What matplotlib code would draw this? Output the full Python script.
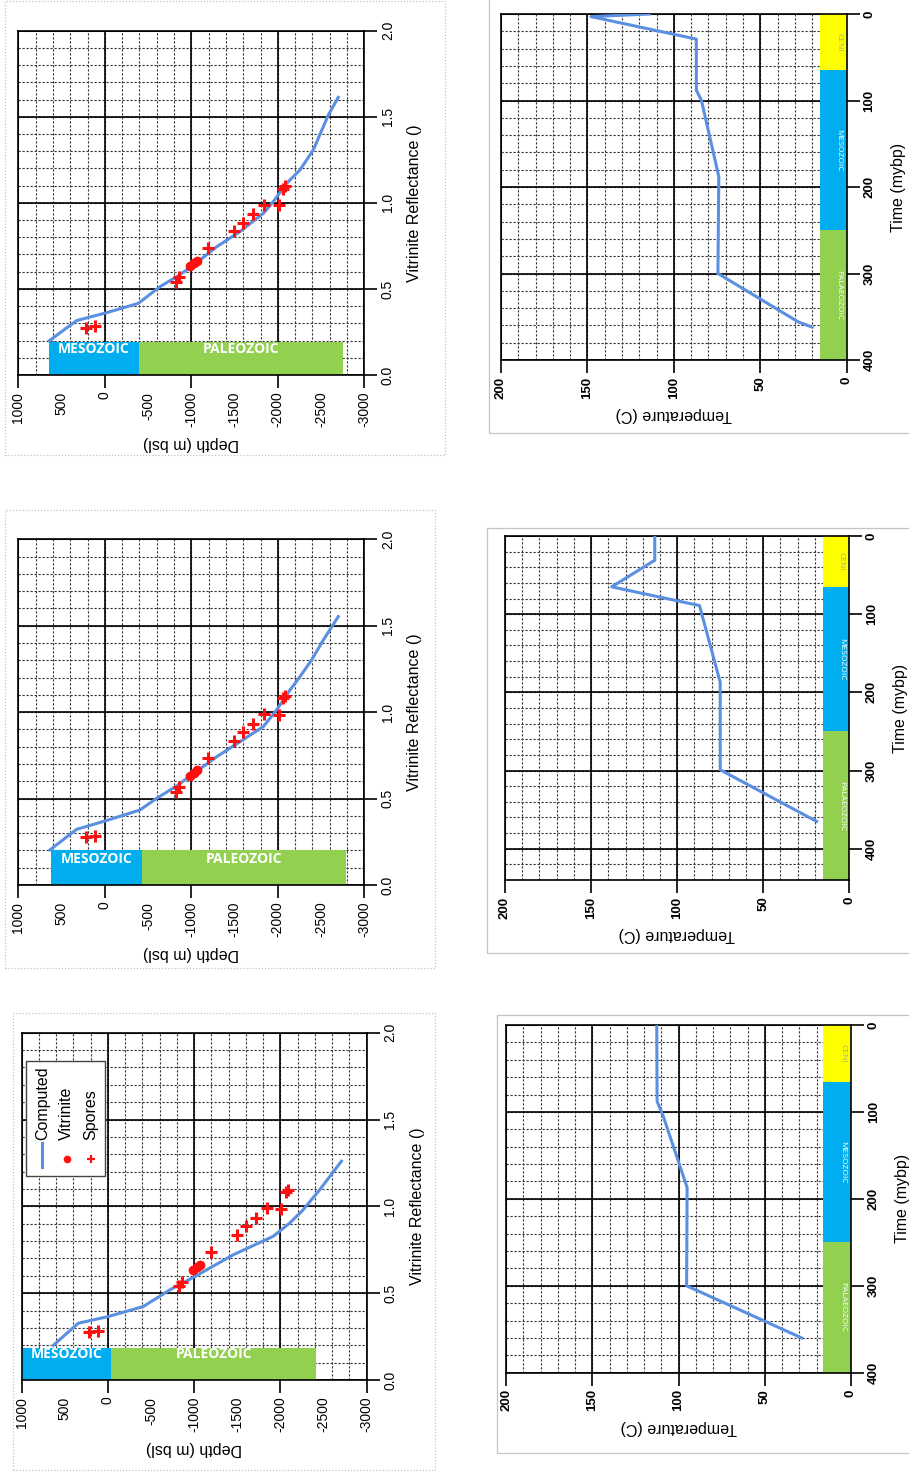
import numpy as np
import matplotlib.pyplot as plt

plt.rcParams['font.family'] = ['Liberation Sans', 'DejaVu Sans']
plt.rcParams['axes.unicode_minus'] = False

W, H = 909, 1475
fig = plt.figure(figsize=(W / 100, H / 100), dpi=100)

LINE = '#5b8fe2'
RED = '#ff1010'
MESO = '#00aeef'
PALEO = '#92d050'
CENO = '#ffff00'

# measured maturity (same samples in all three runs)
spore_depth = [220, 110, -820, -860, -1190, -1495, -1595, -1715, -1840, -2010, -2065, -2085]
spore_ro = [0.275, 0.283, 0.540, 0.567, 0.735, 0.835, 0.885, 0.934, 0.988, 0.985, 1.080, 1.095]
vitr_depth = [-990, -1030, -1065]
vitr_ro = [0.632, 0.648, 0.665]

# computed Ro profiles
run1_depth = [633, 344, 0, -409, -718, -1008, -1452, -1915, -2108, -2263, -2456, -2707]
run1_ro = [0.20, 0.327, 0.365, 0.423, 0.519, 0.596, 0.721, 0.827, 0.904, 0.98, 1.096, 1.26]
run2_depth = [634, 326, -13, -406, -599, -830, -1004, -1293, -1563, -1832, -1987, -2141, -2256, -2391, -2526, -2699]
run2_ro = [0.203, 0.322, 0.372, 0.434, 0.501, 0.573, 0.636, 0.742, 0.829, 0.916, 1.013, 1.128, 1.205, 1.302, 1.417, 1.553]
run3_depth = [642, 326, -21, -387, -638, -830, -1004, -1293, -1563, -1832, -1948, -2102, -2256, -2410, -2584, -2699]
run3_ro = [0.199, 0.316, 0.362, 0.416, 0.513, 0.571, 0.629, 0.745, 0.833, 0.939, 1.007, 1.113, 1.191, 1.307, 1.51, 1.613]

# era columns in the depth plots: name, top, base
run1_eras = [('MESOZOIC', 1000, -40), ('PALEOZOIC', -40, -2410)]
run2_eras = [('MESOZOIC', 625, -425), ('PALEOZOIC', -425, -2790)]
run3_eras = [('MESOZOIC', 650, -400), ('PALEOZOIC', -400, -2755)]

# temperature histories
run1_time = [0, 88, 104, 187, 300, 360]
run1_temp = [112.6, 112.4, 109, 95, 95.3, 28.6]
run2_time = [0, 31, 65, 89, 187, 299, 356, 365]
run2_temp = [113, 113, 138, 87, 75, 75, 26.7, 19]
run3_time = [0, 3, 29, 88, 100, 188, 300, 356, 362]
run3_temp = [114, 148, 87, 87, 84, 74, 74.5, 28, 20]

era_names = ['CENI', 'MESOZOIC', 'PALAEOZOIC']
era_colors = [CENO, MESO, PALEO]
era_text = ['#a8a8a0', 'white', 'white']


def px_axes(x0, y0, x1, y1):
    return fig.add_axes([x0 / W, 1 - y1 / H, (x1 - x0) / W, (y1 - y0) / H])


def frame(x0, y0, x1, y1, ls):
    fig.add_artist(plt.Rectangle((x0 / W, 1 - y1 / H), (x1 - x0) / W, (y1 - y0) / H,
                                 transform=fig.transFigure, fill=False,
                                 ec='#c4c4c4', lw=0.9, ls=ls))


def grid(ax, xminor, xmajor, yminor, ymajor):
    for v in xminor:
        ax.axvline(v, color='#333333', lw=0.8, ls=(0, (2, 1.6)), zorder=0.5)
    for v in yminor:
        ax.axhline(v, color='#333333', lw=0.8, ls=(0, (2, 1.6)), zorder=0.5)
    for v in xmajor:
        ax.axvline(v, color='k', lw=1.2, zorder=0.6)
    for v in ymajor:
        ax.axhline(v, color='k', lw=1.2, zorder=0.6)


def style(ax, weight='normal', size=10):
    for s in ax.spines.values():
        s.set_linewidth(1.2)
    ax.yaxis.tick_right()
    ax.tick_params(axis='both', direction='out', length=9, width=1.2, pad=3,
                   labelsize=size, labelrotation=90)
    ax.tick_params(axis='x', top=False)
    ax.tick_params(axis='y', left=False)
    for lab in ax.get_xticklabels() + ax.get_yticklabels():
        lab.set_fontweight(weight)
    for lab in ax.get_yticklabels():
        lab.set_verticalalignment('center')


def labels(ax, xlabel, ylabel, xy, yx):
    ax.yaxis.set_label_position('right')
    ax.set_xlabel(xlabel, fontsize=11.5, rotation=180, va='center')
    ax.set_ylabel(ylabel, fontsize=11.5, rotation=90, va='center', ha='center',
                  rotation_mode='default')
    ax.xaxis.set_label_coords(0.5, xy)
    ax.yaxis.set_label_coords(yx, 0.5)


def depth_panel(box, depth, ro, eras, bar_top):
    ax = px_axes(*box)
    ax.set_xlim(1000, -3000)
    ax.set_ylim(0, 2)
    grid(ax, np.arange(-3000, 1001, 200), np.arange(-3000, 1001, 1000),
         np.arange(0, 2.01, 0.1), np.arange(0, 2.01, 0.5))

    for (name, d0, d1), c in zip(eras, [MESO, PALEO]):
        ax.fill_between([d0, d1], 0, bar_top, color=c, lw=0, zorder=1)
        ax.text((d0 + d1) / 2, 0.152, name, color='white', fontsize=10,
                fontweight='bold', family=['Open Sans', 'DejaVu Sans'],
                ha='center', va='center', zorder=3)

    ax.plot(depth, ro, color=LINE, lw=2.2, zorder=3)
    ax.plot(spore_depth, spore_ro, ls='none', marker='+', color=RED, ms=9, mew=2.2, zorder=4)
    ax.plot(vitr_depth, vitr_ro, ls='none', marker='o', color=RED, ms=6, zorder=4)

    ticks = np.arange(-3000, 1001, 500)
    ax.set_xticks(ticks, [str(t) for t in ticks])
    rticks = np.arange(0, 2.01, 0.5)
    ax.set_yticks(rticks, [f'{v:.1f}' for v in rticks])
    style(ax)
    # only the thousands carry a tick mark
    for t, loc in zip(ax.xaxis.get_major_ticks(), ticks):
        if loc % 1000:
            t.tick1line.set_markersize(0)
    labels(ax, 'Depth (m bsl)', 'Vitrinite Reflectance ()', -0.198, 1.146)
    return ax


def temp_panel(box, time, temp, tmax, bar_w, edges):
    ax = px_axes(*box)
    ax.set_xlim(200, 0)
    ax.set_ylim(tmax, 0)
    grid(ax, np.arange(0, 201, 10), np.arange(0, 201, 50),
         np.arange(0, tmax + 1, 20), np.arange(0, tmax + 1, 100))

    for i, (name, c) in enumerate(zip(era_names, era_colors)):
        ax.fill_betweenx([edges[i], edges[i + 1]], 0, bar_w, color=c, lw=0, zorder=1)
        ax.text(4.6, (edges[i] + edges[i + 1]) / 2, name, color=era_text[i], fontsize=6,
                rotation=-90, family=['Open Sans', 'DejaVu Sans'],
                ha='center', va='center', zorder=3)

    ax.plot(temp, time, color=LINE, lw=2.2, zorder=3)

    tt = np.arange(0, 201, 50)
    ax.set_xticks(tt, [str(t) for t in tt])
    yt = np.arange(0, 401, 100)
    ax.set_yticks(yt, [str(t) for t in yt])
    style(ax, 'bold', 9.5)
    labels(ax, 'Temperature (C)', 'Time (mybp)', -0.158, 1.15)
    return ax


# panel borders
frame(5, 1, 445, 455, (0, (1, 1.5)))
frame(5, 510, 435, 968, (0, (1, 1.5)))
frame(13, 1013, 435, 1470, (0, (1, 1.5)))
frame(489, -5, 915, 433, '-')
frame(487, 528, 915, 953, '-')
frame(497, 1015, 915, 1453, '-')

depth_panel((18.3, 30.7, 364.3, 375), run3_depth, run3_ro, run3_eras, 0.194)
depth_panel((18.3, 539.3, 364.3, 885), run2_depth, run2_ro, run2_eras, 0.20)
ax1 = depth_panel((21.7, 1032.7, 366.7, 1380), run1_depth, run1_ro, run1_eras, 0.187)

temp_panel((501, 14, 846.7, 360), run3_time, run3_temp, 400, 15.5, [0, 65, 250, 400])
temp_panel((505, 536, 849.3, 880), run2_time, run2_temp, 440, 15.5, [0, 65, 250, 440])
temp_panel((506, 1025, 851, 1372.7), run1_time, run1_temp, 400, 16, [0, 65, 250, 400])

# legend, laid out sideways like the rest of the page
tr = ax1.transAxes
ax1.add_patch(plt.Rectangle((0.0125, 0.588), 0.229, 0.331, transform=tr,
                            fc='white', ec='#444444', lw=1.0, zorder=5))
ax1.plot([0.0597, 0.0597], [0.613, 0.681], transform=tr, color=LINE, lw=2.2, zorder=6)
ax1.plot([0.1304], [0.6355], transform=tr, ls='none', marker='o', color=RED, ms=4.5, zorder=6)
ax1.plot([0.200], [0.6355], transform=tr, ls='none', marker='+', color=RED, ms=6, mew=1.6, zorder=6)
for x, name in zip([0.0597, 0.1304, 0.200], ['Computed', 'Vitrinite', 'Spores']):
    ax1.text(x, 0.691, name, transform=tr, rotation=90, fontsize=11.5,
             ha='center', va='bottom', zorder=6)

fig.savefig('out.png', dpi=100)
